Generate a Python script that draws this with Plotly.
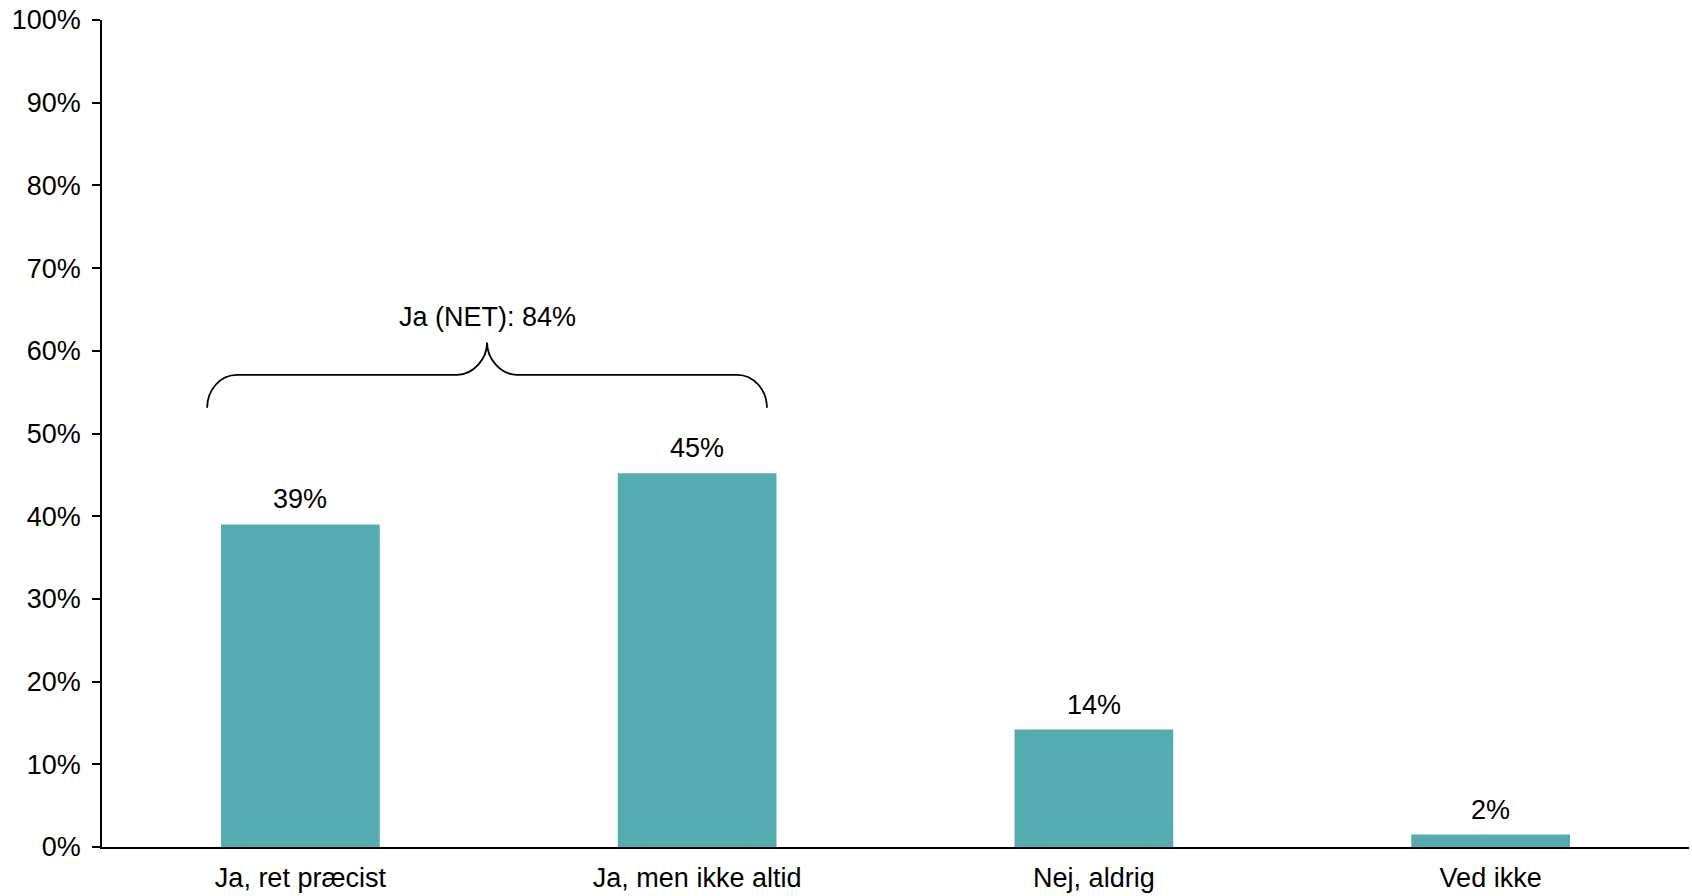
import plotly.graph_objects as go

categories = ["Ja, ret præcist", "Ja, men ikke altid", "Nej, aldrig", "Ved ikke"]
values = [39.0, 45.2, 14.2, 1.5]
value_labels = ["39%", "45%", "14%", "2%"]
net_label = "Ja (NET): 84%"
y_ticks = [0, 10, 20, 30, 40, 50, 60, 70, 80, 90, 100]
y_ticktext = [f"{v}%" for v in y_ticks]

FONT = "Liberation Sans, Arial, sans-serif"
FS = 27
BAR_COLOR = "#54ABB0"

xs = list(range(len(categories)))

fig = go.Figure()
fig.add_trace(go.Bar(
    x=xs, y=values, marker=dict(color=BAR_COLOR, line=dict(width=0)),
    width=0.4, hoverinfo="skip", showlegend=False,
))

annotations = []
for x, v, t in zip(xs, values, value_labels):
    annotations.append(dict(
        x=x, y=v, xref="x", yref="y", text=t, showarrow=False,
        yanchor="bottom", yshift=8,
        font=dict(family=FONT, size=FS, color="black"),
    ))

# brace over the first two categories
xl, xr = xs[0] - 0.235, xs[1] + 0.176
mid = (xl + xr) / 2
y_end, y_bar, y_tip = 53.1, 57.1, 61.0
dx = 0.075
ye_c = y_end + 0.55 * (y_bar - y_end)
yt_c = y_bar + 0.5 * (y_tip - y_bar)
path = (
    f"M {xl},{y_end} C {xl},{ye_c} {xl+0.45*dx},{y_bar} {xl+dx},{y_bar} "
    f"L {mid-dx},{y_bar} C {mid-0.45*dx},{y_bar} {mid},{yt_c} {mid},{y_tip} "
    f"C {mid},{yt_c} {mid+0.45*dx},{y_bar} {mid+dx},{y_bar} "
    f"L {xr-dx},{y_bar} C {xr-0.45*dx},{y_bar} {xr},{ye_c} {xr},{y_end}"
)
shapes = [dict(type="path", path=path, xref="x", yref="y",
               line=dict(color="black", width=1.8))]
annotations.append(dict(
    x=mid, y=y_tip, xref="x", yref="y", text=net_label, showarrow=False,
    yanchor="bottom", yshift=9,
    font=dict(family=FONT, size=FS, color="black"),
))

fig.update_layout(
    width=1692, height=896,
    margin=dict(l=102, r=3, t=20, b=49, pad=0),
    paper_bgcolor="white", plot_bgcolor="white",
    font=dict(family=FONT, size=FS, color="black"),
    bargap=0.6,
    shapes=shapes, annotations=annotations,
    xaxis=dict(
        tickmode="array", tickvals=xs, ticktext=categories,
        range=[-0.5, len(categories) - 0.5],
        showline=True, linecolor="black", linewidth=1.5,
        ticks="", showgrid=False, zeroline=False,
        tickfont=dict(family=FONT, size=FS, color="black"),
        ticklabelstandoff=6, ticklabeloverflow="allow", automargin=False,
    ),
    yaxis=dict(
        tickmode="array", tickvals=y_ticks, ticktext=y_ticktext,
        range=[0, 100],
        showline=True, linecolor="black", linewidth=1.5,
        ticks="outside", ticklen=8, tickwidth=1.5, tickcolor="black",
        showgrid=False, zeroline=False,
        tickfont=dict(family=FONT, size=FS, color="black"),
        ticklabelstandoff=6, ticklabeloverflow="allow", automargin=False,
    ),
)

# remove the browser's default body margin so the figure fills the window
fig.write_html("out.html", config={"displayModeBar": False},
               post_script="document.body.style.margin='0';")
